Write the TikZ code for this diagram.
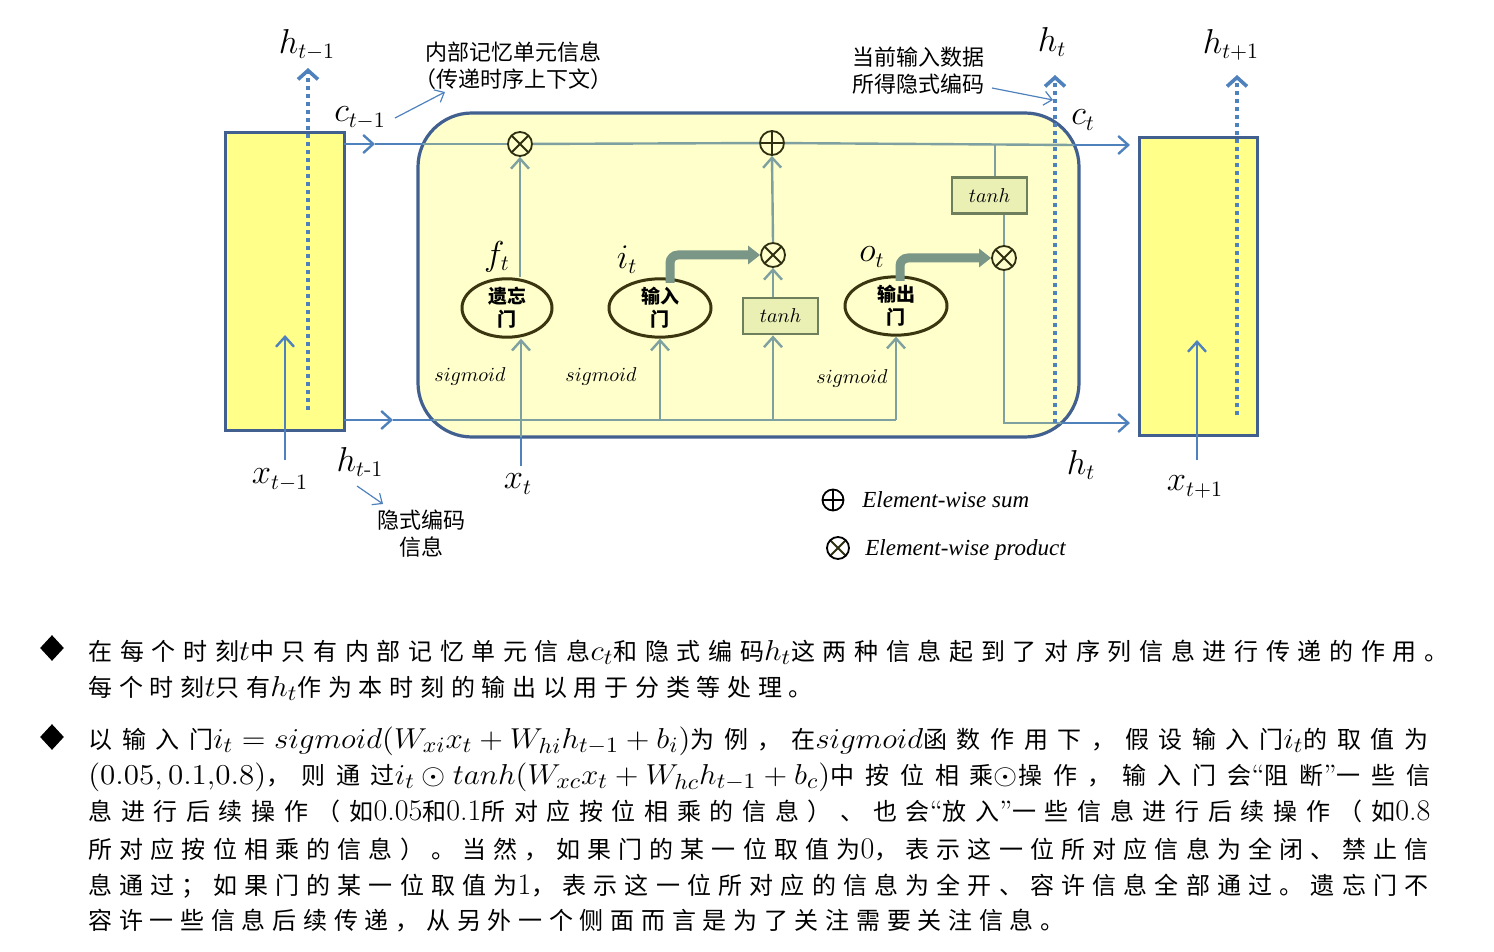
\documentclass[tikz,border=0pt]{standalone}
\usepackage{amsmath}
\usepackage{graphicx}
\usepackage{fontspec}
\newfontfamily\cnsp[LetterSpace=28]{Noto Sans CJK SC}
\newfontfamily\cnn{Noto Sans CJK SC}
\newfontfamily\lgfont{Liberation Serif}
\newXeTeXintercharclass\cjkcls
\count255="4E00
\loop \XeTeXcharclass\count255=\cjkcls \advance\count255 by 1 \ifnum\count255<"A000 \repeat
\XeTeXcharclass"3001=\cjkcls
\XeTeXcharclass"3002=\cjkcls
\XeTeXcharclass"FF08=\cjkcls
\XeTeXcharclass"FF09=\cjkcls
\XeTeXcharclass"FF0C=\cjkcls
\XeTeXcharclass"FF1B=\cjkcls
\XeTeXinterchartoks\cjkcls\cjkcls={\hskip 0pt plus 1fil\relax}
\newcommand\dg[1]{{\rmfamily\fontsize{15}{18}\selectfont #1}}
\newcommand\qt[1]{{\rmfamily\fontsize{14}{18}\selectfont #1}}
\newcommand\mth[1]{{\fontsize{15.5}{18}\selectfont\scalebox{1.08}[1]{$#1$}}}
\newcommand\jline[2]{\makebox[#1][s]{\XeTeXinterchartokenstate=1 #2\XeTeXinterchartokenstate=0 }}
\usetikzlibrary{arrows.meta,shapes.geometric}
\definecolor{boxblue}{HTML}{41608F}
\definecolor{arrblue}{HTML}{4F81BD}
\definecolor{greyln}{HTML}{7FA0A0}
\definecolor{circdark}{HTML}{2E2E10}
\definecolor{gatedark}{HTML}{3B3510}
\definecolor{tanhdark}{HTML}{6E7F5E}
\definecolor{tanhfill}{HTML}{EAF0B4}
\definecolor{thickcol}{HTML}{7A9686}
\definecolor{bigfill}{HTML}{FFFFCC}
\definecolor{cellyel}{HTML}{FFFF8A}
\tikzset{
  cellbox/.style={draw=boxblue, line width=1.5pt, fill=cellyel, inner sep=0, outer sep=0},
  blueln/.style={draw=arrblue, line width=1.2pt},
  bluearr/.style={blueln, -{Straight Barb[length=5pt,width=9pt]}},
  innerln/.style={draw=greyln, line width=1.2pt},
  innerarr/.style={innerln, -{Straight Barb[length=5pt,width=9pt]}},
  dots/.style={draw=arrblue, line width=2pt, dash pattern=on 2pt off 2pt, -{Straight Barb[length=4.5pt,width=10pt,line width=1.8pt]}},
  thinarr/.style={draw=arrblue, line width=0.6pt, -{Straight Barb[length=4pt,width=7pt]}},
  otimes/.style={circle, draw=circdark, line width=0.9pt, fill=bigfill, minimum size=12pt, inner sep=0,
    path picture={\draw[line width=0.9pt, circdark] (path picture bounding box.north west) -- (path picture bounding box.south east) (path picture bounding box.north east) -- (path picture bounding box.south west);}},
  oplus/.style={circle, draw=circdark, line width=0.9pt, fill=bigfill, minimum size=12pt, inner sep=0,
    path picture={\draw[line width=0.9pt, circdark] (path picture bounding box.north) -- (path picture bounding box.south) (path picture bounding box.west) -- (path picture bounding box.east);}},
  gate/.style={ellipse, draw=gatedark, line width=1.5pt, fill=bigfill, inner sep=0, align=center, font=\cnn\bfseries\fontsize{9.5}{11.5}\selectfont},
  tanhbox/.style={draw=tanhdark, line width=1.4pt, fill=tanhfill, minimum width=37.5pt, minimum height=18pt, inner sep=0, font=\fontsize{10}{12}\selectfont},
  thickarr/.style={draw=thickcol, line width=4.5pt, rounded corners=4pt, -{Triangle[length=6pt,width=9pt]}},
  lbl/.style={font=\fontsize{16}{18}\selectfont, inner sep=0},
  cnlbl/.style={font=\cnn\fontsize{11}{13}\selectfont, inner sep=0},
  sig/.style={font=\fontsize{10}{12}\selectfont, inner sep=0},
  txt/.style={anchor=base west, inner sep=0, font=\cnsp\fontsize{12}{14}\selectfont},
  bullet/.style={diamond, fill=black, minimum width=12pt, minimum height=13pt, inner sep=0}
}
\begin{document}
\begin{tikzpicture}[x=0.5pt,y=-0.5pt]
\useasboundingbox (0,0) rectangle (1494,952);

% big cell
\node[draw=boxblue, line width=1.6pt, fill=bigfill, rounded corners=27pt, minimum width=330.5pt, minimum height=162pt, inner sep=0] (cell) at (748.5,275) {};
% side boxes
\node[cellbox, minimum width=59.5pt, minimum height=148.5pt] (lbox) at (284.5,281.5) {};
\node[cellbox, minimum width=59pt, minimum height=148.5pt] (rbox) at (1198,286.5) {};

% operators
\node[otimes] (m1) at (520,144) {};
\node[oplus] (add) at (772,143) {};
\node[otimes] (m2) at (773,255) {};
\node[otimes] (m3) at (1004,258) {};
\node[tanhbox] (tanh1) at (780.5,316) {$tanh$};
\node[tanhbox] (tanh2) at (989.5,195.5) {$tanh$};
\node[gate, minimum width=45pt, minimum height=27pt] (fg) at (507,308) {遗忘\\门};
\node[gate, minimum width=51pt, minimum height=27pt] (ig) at (660,308) {输入\\门};
\node[gate, minimum width=51pt, minimum height=28pt] (og) at (896,306) {输出\\门};

% coordinates
\coordinate (cin) at (375,144);
\coordinate (cL) at (423,144);
\coordinate (cR) at (1074,145);
\coordinate (cout) at (1130,145);
\coordinate (ctap) at (995,145);
\coordinate (hin) at (393,420);
\coordinate (bL) at (433,420);
\coordinate (bR) at (1061,423);
\coordinate (hout) at (1130,423);
\coordinate (xt) at (521,466);
\coordinate (xtb) at (521,437);
\coordinate (igt) at (670,283);
\coordinate (ogt) at (900,281);
\coordinate (htop) at (1055,75);
\coordinate (hl0) at (308,410);
\coordinate (hl1) at (308,68);
\coordinate (hr0) at (1237,415);
\coordinate (hr1) at (1237,75);
\coordinate (xl0) at (285,460);
\coordinate (xl1) at (285,335);
\coordinate (xr0) at (1197,460);
\coordinate (xr1) at (1197,340);

% cell state line
\draw[bluearr] (lbox.east |- cin) -- (cin);
\draw[blueln] (cin) -- (cL);
\draw[innerln] (cL) -- (m1);
\draw[innerln] (m1) -- (add);
\draw[innerln] (add) -- (cR);
\draw[bluearr] (cR) -- (cout);
\draw[innerln] (ctap) -- (ctap |- tanh2.north);
\draw[innerln] (m3.north |- tanh2.south) -- (m3.north);

% input line
\draw[bluearr] (lbox.east |- hin) -- (hin);
\draw[blueln] (hin) -- (bL);
\draw[innerln] (bL) -- (og.south |- bL);
\draw[innerarr] (ig.south |- bL) -- (ig.south);
\draw[innerarr] (m2.south |- bL) -- (m2.south |- tanh1.south);
\draw[innerarr] (og.south |- bL) -- (og.south);
\draw[innerarr] (m2.south |- tanh1.north) -- (m2.south);
\draw[innerarr] (m2.north) -- (add.south);
\draw[blueln] (xt) -- (xtb);
\draw[innerarr] (xtb) -- (xtb |- fg.south);
\draw[innerarr] (m1.south |- fg.north) -- (m1.south);

% gate arrows
\draw[thickarr] (igt) |- (m2.west);
\draw[thickarr] (ogt) |- (m3.west);

% output
\draw[innerln] (m3.south) -- (m3.south |- bR) -- (bR);
\draw[bluearr] (bR) -- (hout);

% dotted hidden outputs
\draw[dots] (bR -| htop) -- (htop);
\draw[dots] (hl0) -- (hl1);
\draw[dots] (hr0) -- (hr1);
\draw[bluearr] (xl0) -- (xl1);
\draw[bluearr] (xr0) -- (xr1);

% labels
\node[lbl] (lh1) at (307,45) {$h_{t-1}$};
\node[lbl] (lc1) at (360,118) {$c_{t-1}$};
\node[lbl] (lh2) at (1052,42) {$h_t$};
\node[lbl] (lh3) at (1231,45) {$h_{t+1}$};
\node[lbl] (lc2) at (1083,120) {$c_t$};
\node[lbl] (lh4) at (1081,465) {$h_t$};
\node[lbl] (lx1) at (280,480) {$x_{t-1}$};
\node[lbl] (lx2) at (518,484) {$x_t$};
\node[lbl] (lx3) at (1195,487) {$x_{t+1}$};
\node[lbl] (lh5) at (360,462) {$h_{t\text{-1}}$};
\node[lbl] (lf) at (497,257) {$f_t$};
\node[lbl] (li) at (627,260) {$i_t$};
\node[lbl] (lo) at (872,257) {$o_t$};
\node[sig] (s1) at (470,376) {$sigmoid$};
\node[sig] (s2) at (601,376) {$sigmoid$};
\node[sig] (s3) at (852,378) {$sigmoid$};

% annotations
\node[cnlbl] (n1) at (513,52) {内部记忆单元信息};
\node[cnlbl] (n2) at (513,79) {（传递时序上下文）};
\node[cnlbl] (n3) at (918,57) {当前输入数据};
\node[cnlbl] (n4) at (918,84) {所得隐式编码};
\node[cnlbl] (n5) at (421,520) {隐式编码};
\node[cnlbl] (n6) at (421,547) {信息};
\coordinate (a1s) at (395,118);
\coordinate (a1e) at (445,92);
\coordinate (a2s) at (992,88);
\coordinate (a2e) at (1053,100);
\coordinate (a3s) at (357,486);
\coordinate (a3e) at (383,504);
\draw[thinarr] (a1s) -- (a1e);
\draw[thinarr] (a2s) -- (a2e);
\draw[thinarr] (a3s) -- (a3e);

% legend
\node[oplus, draw=black, fill=none, minimum size=10.5pt, path picture={\draw[line width=0.9pt] (path picture bounding box.north) -- (path picture bounding box.south) (path picture bounding box.west) -- (path picture bounding box.east);}] (lgs) at (833,500) {};
\node[anchor=west, inner sep=0, font=\lgfont\itshape\fontsize{11.5}{14}\selectfont] (lgst) at (862,500) {Element-wise sum};
\node[otimes, draw=black, fill=none, minimum size=11pt] (lgp) at (838,548) {};
\node[anchor=west, inner sep=0, font=\lgfont\itshape\fontsize{11.5}{14}\selectfont] (lgpt) at (865,550) {Element-wise product};

% bullets and text
\node[bullet] (b1) at (52,648) {};
\node[bullet] (b2) at (52,737) {};
\node[txt] (t1) at (88,660) {\jline{680pt}{在每个时刻\mth{t}中只有内部记忆单元信息\mth{c_t}和隐式编码\mth{h_t}这两种信息起到了对序列信息进行传递的作用。}};
\node[txt] (t2) at (88,696) {每个时刻\mth{t}只有\mth{h_t}作为本时刻的输出以用于分类等处理。};
\node[txt] (t3) at (88,748) {\jline{670pt}{以输入门\mth{i_t = sigmoid(W_{xi}x_t + W_{hi}h_{t-1} + b_i)}为例，在\mth{sigmoid}函数作用下，假设输入门\mth{i_t}的取值为}};
\node[txt] (t4) at (88,784) {\jline{671pt}{\mth{(0.05, 0.1{,}0.8)}，则通过\mth{i_t \odot tanh(W_{xc}x_t + W_{hc}h_{t-1} + b_c)}中按位相乘\mth{\odot}操作，输入门会\qt{“}阻断\qt{”}一些信}};
\node[txt] (t5) at (88,820) {\jline{671pt}{息进行后续操作（如\dg{0.05}和\dg{0.1}所对应按位相乘的信息）、也会\qt{“}放入\qt{”}一些信息进行后续操作（如\dg{0.8}}};
\node[txt] (t6) at (88,858) {\jline{670pt}{所对应按位相乘的信息）。当然，如果门的某一位取值为\dg{0}，表示这一位所对应信息为全闭、禁止信}};
\node[txt] (t7) at (88,894) {\jline{670pt}{息通过；如果门的某一位取值为\dg{1}，表示这一位所对应的信息为全开、容许信息全部通过。遗忘门不}};
\node[txt] (t8) at (88,929) {容许一些信息后续传递，从另外一个侧面而言是为了关注需要关注信息。};
\end{tikzpicture}
\end{document}
